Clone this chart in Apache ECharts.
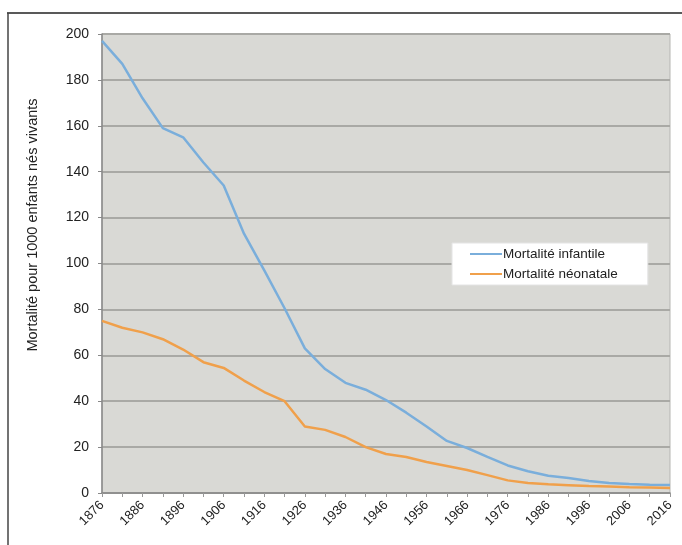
<!DOCTYPE html>
<html>
<head>
<meta charset="utf-8">
<script src="https://cdn.jsdelivr.net/npm/echarts@6/dist/echarts.min.js"></script>
<style>html,body{margin:0;padding:0;background:#fff}#c{width:682px;height:545px}</style>
</head>
<body>
<div id="c"></div>
<script>
const years = [1876,1881,1886,1891,1896,1901,1906,1911,1916,1921,1926,1931,1936,1941,1946,1951,1956,1961,1966,1971,1976,1981,1986,1991,1996,2001,2006,2011,2016];
const infantile = [197,187,172,159,155,144,134,113,97,80.5,63,54,48,45,40.5,35,29,22.7,19.6,15.7,12,9.5,7.5,6.5,5.2,4.4,3.9,3.6,3.5];
const neonatale = [75,72,70,67,62.5,57,54.5,49,44,40,29,27.5,24.4,20,17,15.7,13.5,11.8,10,7.8,5.5,4.4,3.8,3.4,3.0,2.8,2.5,2.4,2.2];
const yTicks = [0,20,40,60,80,100,120,140,160,180,200];
const seriesNames = ['Mortalité infantile','Mortalité néonatale'];
const yTitle = 'Mortalité pour 1000 enfants nés vivants';

const chart = echarts.init(document.getElementById('c'));
chart.setOption({
  animation:false,
  backgroundColor:'#fff',
  textStyle:{fontFamily:'Liberation Sans, Arial, sans-serif'},
  graphic:[
    {type:'line', shape:{x1:7,y1:13,x2:682,y2:13}, style:{stroke:'#222',lineWidth:1.5}, z:100},
    {type:'line', shape:{x1:8,y1:13,x2:8,y2:545}, style:{stroke:'#444',lineWidth:1.5}, z:100},
    {type:'text', x:33, y:225, rotation:Math.PI/2, style:{text:yTitle, fill:'#222', font:'14.5px Liberation Sans, Arial, sans-serif', textAlign:'center', textVerticalAlign:'middle'}}
  ],
  grid:{left:102,top:34,right:12,bottom:52,show:true,backgroundColor:'#d9d9d5',borderColor:'#b5b5b2',borderWidth:1},
  legend:{
    data:seriesNames, orient:'vertical', left:452, top:243,
    backgroundColor:'#fff', borderColor:'#e4e4e4', borderWidth:1,
    padding:[4,30,4,18], itemGap:6, itemWidth:32, itemHeight:12,
    icon:'path://M0,5L32,5L32,7L0,7Z',
    textStyle:{fontSize:13.5,color:'#222',padding:[0,0,0,-4]}
  },
  xAxis:{
    type:'category', data:years, boundaryGap:false,
    axisLine:{lineStyle:{color:'#888',width:1.5}},
    axisTick:{show:true,interval:0,length:4,lineStyle:{color:'#999'}},
    axisLabel:{interval:1, rotate:45, fontSize:13, color:'#222', margin:10},
    splitLine:{show:false}
  },
  yAxis:{
    type:'value', min:0, max:200, interval:20,
    axisLine:{show:true,lineStyle:{color:'#888',width:1.5}},
    axisTick:{show:true,length:4,lineStyle:{color:'#888'}},
    axisLabel:{fontSize:14,color:'#222',margin:13},
    splitLine:{lineStyle:{color:'#a9a9a5',width:2}}
  },
  series:[
    {name:seriesNames[0], type:'line', data:infantile, symbol:'none', lineStyle:{color:'#7aaedb',width:2.5}, itemStyle:{color:'#7aaedb'}},
    {name:seriesNames[1], type:'line', data:neonatale, symbol:'none', lineStyle:{color:'#f0a04b',width:2.5}, itemStyle:{color:'#f0a04b'}}
  ]
});
</script>
</body>
</html>
